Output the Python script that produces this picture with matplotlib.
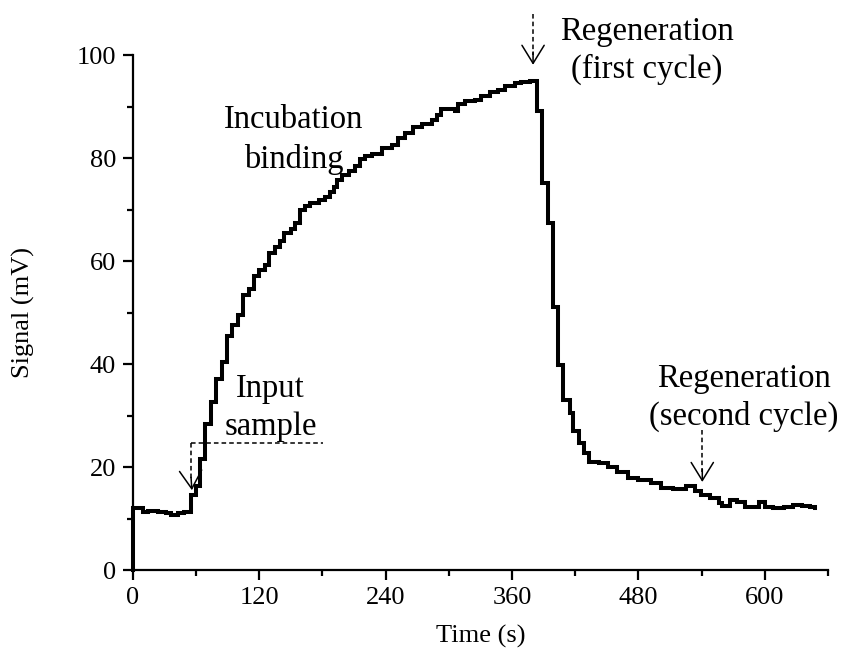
import numpy as np
import matplotlib
matplotlib.use('Agg')
import matplotlib.pyplot as plt

# Sensor response (steps-post: from time_s[i] on, value signal_mv[i])
time_s = [0, 0, 9.8, 14.5, 24, 31.7, 36.5, 42.8, 49, 55.4,
          60, 64, 69, 74, 79.5, 85, 89.6, 94.5, 100, 104.7,
          110, 115, 120, 125.5, 129, 135, 140, 144, 150, 154.5,
          159, 164, 168.5, 177, 183, 187.6, 191, 194, 198.8, 205,
          211, 216, 220.8, 227, 236.6, 246, 252, 258.6, 266.5, 274.4,
          284, 288.6, 293, 299.6, 305.9, 309, 315, 324.7, 331, 339,
          347, 353, 362.6, 369, 377, 384, 388.9, 393.7, 398.5, 403.6,
          408, 414.6, 417.8, 424, 428.8, 433.5, 442.6, 450.8, 460, 469.8,
          480, 491.5, 501, 513, 520, 525, 534, 539, 548, 556,
          559.5, 567, 573.7, 581.6, 594, 600.5, 608, 618, 627, 635,
          643, 648]
signal_mv = [0, 12.0, 11.3, 11.5, 11.3, 11.1, 10.7, 11.1, 11.3, 14.6,
             16.4, 21.6, 28.4, 32.7, 37.0, 40.4, 45.5, 47.6, 49.5, 53.4,
             54.5, 57.0, 58.3, 59.2, 61.5, 62.8, 63.8, 65.4, 66.3, 67.4,
             69.9, 70.6, 71.2, 71.8, 72.5, 73.5, 74.4, 75.7, 76.7, 77.4,
             78.4, 79.8, 80.3, 80.7, 81.9, 82.6, 83.8, 84.8, 86.0, 86.7,
             87.4, 88.3, 89.5, 89.6, 89.2, 90.5, 91.0, 91.3, 92.0, 92.9,
             93.3, 93.9, 94.5, 94.8, 95.0, 89.2, 75.2, 67.4, 51.1, 39.8,
             33.0, 30.4, 26.9, 24.6, 22.7, 21.0, 20.7, 20.1, 19.0, 17.8,
             17.4, 16.9, 15.9, 15.7, 15.7, 16.3, 15.4, 14.6, 14.0, 13.0,
             12.4, 13.6, 13.3, 12.2, 13.3, 12.3, 12.1, 12.3, 12.6, 12.4,
             12.2, 12.0]

x_ticks = [0, 120, 240, 360, 480, 600]
y_ticks = [0, 20, 40, 60, 80, 100]

# annotation anchors (data coords)
input_time, input_level, input_tip = 55.4, 24.7, 15.5
input_line_end = 181
regen1_time, regen1_top, regen1_tip = 380, 108, 98.1
regen2_time, regen2_top, regen2_tip = 540.6, 27.2, 17.1

plt.rcParams['font.family'] = ['Liberation Serif', 'DejaVu Serif']

fig = plt.figure(figsize=(8.45, 6.59), dpi=100)
ax = fig.add_axes([0.157, 0.135, 0.823, 0.7815])

ax.plot(time_s, signal_mv, drawstyle='steps-post', color='black', lw=2.9,
        solid_joinstyle='miter', clip_on=False, zorder=3)

ax.set_xlim(0, 660)
ax.set_ylim(0, 100)
ax.set_xticks(x_ticks)
ax.set_yticks(y_ticks)
ax.set_xticks(np.arange(60, 661, 120), minor=True)
ax.set_yticks(np.arange(10, 100, 20), minor=True)
for side in ('top', 'right'):
    ax.spines[side].set_visible(False)
for side in ('left', 'bottom'):
    ax.spines[side].set_linewidth(1.6)
ax.tick_params(which='major', direction='out', length=7, width=1.6,
               labelsize=19, pad=5)
ax.tick_params(which='minor', direction='out', length=4, width=1.6)

ax.set_xlabel('Time (s)', fontsize=19, labelpad=12)
ax.set_ylabel('Signal (mV)', fontsize=19, labelpad=30)

dash_kw = dict(color='black', lw=1.1, dashes=(3, 2), clip_on=False, zorder=2)
head_kw = dict(arrowstyle='->,head_length=1.3,head_width=0.8', color='black',
               lw=1.1, shrinkA=0, shrinkB=0, mutation_scale=10)

# Input sample
ax.plot([input_time, input_time], [input_level, input_tip + 2], **dash_kw)
ax.plot([input_time, input_line_end], [input_level, input_level], **dash_kw)
ax.annotate('', xy=(input_time + 0.8, input_tip), xytext=(input_time, input_tip + 2.5),
            arrowprops=head_kw, annotation_clip=False)
ax.text(131, 33.6, 'Input', fontsize=23.5, ha='center', va='baseline')
ax.text(131, 26.2, 'sample', fontsize=23.5, ha='center', va='baseline')

# Incubation binding
ax.text(153, 85.8, 'Incubation', fontsize=23.5, ha='center', va='baseline')
ax.text(153, 78.0, 'binding', fontsize=23.5, ha='center', va='baseline')

# Regeneration (first cycle)
ax.plot([regen1_time, regen1_time], [regen1_top, regen1_tip + 2], **dash_kw)
ax.annotate('', xy=(regen1_time, regen1_tip), xytext=(regen1_time, regen1_tip + 2.5),
            arrowprops=head_kw, annotation_clip=False)
ax.text(488, 102.9, 'Regeneration', fontsize=23.5, ha='center', va='baseline',
        clip_on=False)
ax.text(488, 95.5, '(first cycle)', fontsize=23.5, ha='center', va='baseline',
        clip_on=False)

# Regeneration (second cycle)
ax.plot([regen2_time, regen2_time], [regen2_top, regen2_tip + 2], **dash_kw)
ax.annotate('', xy=(regen2_time, regen2_tip), xytext=(regen2_time, regen2_tip + 2.5),
            arrowprops=head_kw, annotation_clip=False)
ax.text(580, 35.5, 'Regeneration', fontsize=23.5, ha='center', va='baseline',
        clip_on=False)
ax.text(580, 28.2, '(second cycle)', fontsize=23.5, ha='center', va='baseline',
        clip_on=False)

fig.savefig('out.png', dpi=100)
